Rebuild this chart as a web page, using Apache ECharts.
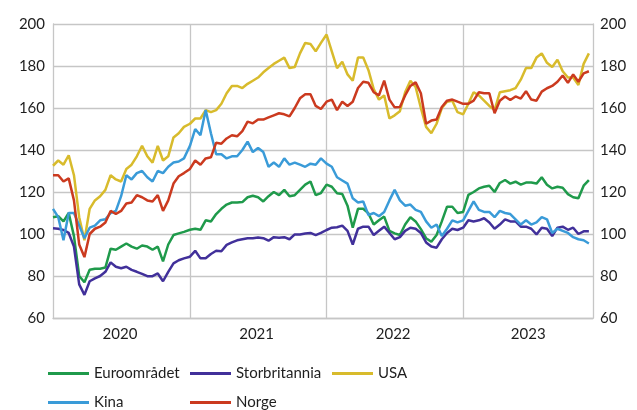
<!DOCTYPE html>
<html>
<head>
<meta charset="utf-8">
<script src="https://cdn.jsdelivr.net/npm/echarts@6/dist/echarts.min.js"></script>
<style>
  html, body { margin: 0; padding: 0; background: #fff; }
  #chart { width: 637px; height: 410px; }
</style>
</head>
<body>
<div id="chart"></div>
<script>
// observations every two weeks from 1 Jan each year, last one early Dec 2023
const pointsPerYear = { 2020: 26, 2021: 26, 2022: 26, 2023: 25 };
const dates = [];
Object.keys(pointsPerYear).forEach(y => {
  for (let k = 0; k < pointsPerYear[y]; k++) dates.push(Date.UTC(+y, 0, 1 + 14 * k));
});
const endDate = Date.UTC(2023, 11, 14);

const yearLabels = ['2020', '2021', '2022', '2023'];
const labelDates = [Date.UTC(2020, 5, 28), Date.UTC(2021, 5, 28), Date.UTC(2022, 5, 28), Date.UTC(2023, 5, 24)];
const yearLines = [Date.UTC(2021, 0, 1), Date.UTC(2022, 0, 1), Date.UTC(2023, 0, 1)];

const seriesNames = ['Euroområdet', 'Storbritannia', 'USA', 'Kina', 'Norge'];

const euro = [
  108, 108.5, 106, 110, 99, 80, 77, 83, 83.5, 83.5, 84, 93, 92.5, 94, 95.5, 94, 93, 94.5, 94, 92.5, 94, 87, 95, 99.5, 100.3, 101,
  102, 102.5, 102, 106.5, 106, 109.5, 112, 114, 115, 115, 115.2, 117.5, 118.2, 117.5, 115.5, 118, 120, 118.5, 121, 118, 118.5, 121, 123.5, 125, 118.5, 119.5,
  123.5, 122.5, 119.4, 119, 113.5, 103, 112, 112, 109.8, 104.5, 106.5, 108.3, 101.5, 100.3, 99.5, 104.5, 108, 106, 102.3, 98, 96.3, 99.5, 106, 113, 113, 110,
  110.5, 118.6, 120, 121.7, 122.5, 123, 120, 124.3, 125.7, 124, 124.9, 123.5, 124.5, 124.5, 124, 127, 123.5, 121.7, 122.5, 122, 119, 117.5, 117, 123, 125.7
];
const storb = [
  102.7, 102.5, 101.9, 100.5, 94, 76, 71, 77.5, 78.9, 80, 82, 86.5, 84.4, 83.7, 84.4, 82.9, 82, 81, 79.9, 79.9, 81.2, 77.5, 82, 86, 87.5, 88.4,
  89.2, 92, 88.4, 88.5, 90.5, 92, 91.8, 94.8, 96, 97, 97.5, 98, 98, 98.3, 98, 96.8, 98.5, 98.2, 98.5, 97.5, 99.8, 99.8, 100.2, 100.5, 99.5, 100.5,
  101.9, 103, 103.2, 104, 101.5, 95, 102.5, 103.5, 103.5, 99.5, 101.5, 103.5, 100.5, 97.5, 98.5, 101.5, 103, 102.5, 100.5, 96, 94, 93.5, 97.5, 100.5, 102.5, 101.9,
  103, 106.5, 106, 106.5, 107.5, 105.5, 102.5, 104.5, 107, 106, 106, 103.5, 103.5, 102.5, 99.8, 103, 102.5, 99, 103, 103.5, 102, 103, 100, 101.3, 101.3
];
const usa = [
  132.5, 135, 133, 137.5, 128, 108, 97, 112, 116, 118, 121, 128, 126, 125, 131, 133, 137, 142, 137, 134, 142, 135, 137, 146, 148, 151,
  152.5, 155, 155, 159, 158, 159, 162, 167, 170.5, 170.5, 169.5, 171.5, 173, 174.5, 177, 179, 181, 182.5, 184, 179, 179.5, 186, 191, 190.5, 187, 191,
  195, 187, 179, 182, 176, 173, 184, 184, 178, 169, 164, 166, 155, 156.5, 158.5, 167.5, 173, 170, 160, 151, 148, 152.5, 160, 163, 163.5, 158,
  157, 162, 167.5, 166, 163.5, 161, 159, 167.5, 168, 168.5, 169.5, 173.5, 179, 179, 184, 186, 181.5, 179.5, 183, 177.5, 174.5, 174.5, 171, 181, 186
];
const kina = [
  112, 108, 97, 110, 110, 104, 98, 103, 104, 106.5, 107, 110, 111, 118, 128, 126, 129, 130, 127, 125, 130, 129, 132, 134, 134.5, 136,
  142, 150, 147, 159, 148, 138, 138, 136, 137, 137, 140, 144, 139, 141, 139, 132, 134, 132, 136, 133, 134, 133, 132, 133.5, 133, 136,
  133.5, 132, 127, 125.5, 124, 117, 115, 115.5, 109, 110, 108.5, 110.5, 116, 121, 116, 113.5, 114, 111.5, 110.5, 106, 103, 104.5, 99, 102.5, 106.5, 105.5,
  106.5, 111, 115.5, 111.5, 110.5, 110.5, 108, 111, 110, 109.5, 107, 104.5, 106.5, 104.5, 105.5, 108, 107, 100.5, 102.5, 101.5, 100.5, 98.5, 97.5, 97, 95.5
];
const norge = [
  128, 128, 125, 126.5, 116, 95, 89, 100, 102.5, 103.5, 105.5, 111, 109.5, 111, 114.5, 115, 118.5, 117.5, 116, 115.5, 118.5, 111, 116, 124, 127.5, 129,
  131, 135, 133, 136, 136.5, 143.5, 143, 145.5, 147, 146.5, 149, 153.5, 152.7, 154.5, 154.5, 155.5, 156.5, 157.5, 157, 156, 160, 164.6, 166.5, 166.5, 161, 159.5,
  163, 164, 159, 163, 161, 163, 169.5, 172.5, 172, 167.5, 166, 173, 164, 160.3, 160.5, 166, 170.5, 172.2, 167, 152.5, 154, 154.5, 160.5, 163.5, 164, 163,
  162, 162, 163.5, 167.5, 167, 167, 157.5, 163.5, 165.5, 163.8, 165.5, 164.5, 168, 164, 163.5, 167.8, 169.4, 170.5, 172.5, 175.5, 172, 176, 172.5, 176.5, 177.5
];

const values = [euro, storb, usa, kina, norge];
const colors = ['#1f9a4b', '#41309a', '#d8bb2c', '#3a9bd8', '#cb3a1f'];

const gridGray = '#c6c6c6';
const textColor = '#1e1e1e';
const font = 'Lato, "Noto Sans", sans-serif';

const chart = echarts.init(document.getElementById('chart'));

const yAxisBase = {
  type: 'value',
  min: 60,
  max: 200,
  interval: 20,
  axisLine: { show: true, lineStyle: { color: gridGray, width: 1.3 } },
  axisTick: { show: false },
  axisLabel: { fontSize: 15, color: textColor, fontFamily: font }
};

chart.setOption({
  animation: false,
  color: colors,
  textStyle: { fontFamily: font },
  grid: { left: 53, right: 44, top: 24, bottom: 92 },
  legend: {
    left: 48,
    top: 364,
    padding: 0,
    width: 440,
    icon: 'rect',
    itemWidth: 41,
    itemHeight: 3,
    itemGap: 10,
    data: seriesNames,
    textStyle: { fontSize: 15, color: textColor, width: 86, lineHeight: 19, fontFamily: font }
  },
  xAxis: {
    // dates as UTC milliseconds on a plain value scale
    type: 'value',
    min: dates[0],
    max: endDate,
    axisLine: { lineStyle: { color: gridGray, width: 1.3 } },
    axisTick: { show: false, customValues: yearLines },
    splitLine: { show: true, lineStyle: { color: gridGray, width: 1.3 } },
    axisLabel: {
      customValues: labelDates,
      formatter: v => yearLabels[labelDates.findIndex(d => Math.abs(d - v) < 864e5)] || '',
      fontSize: 15,
      color: textColor,
      margin: 9,
      fontFamily: font
    }
  },
  yAxis: [
    Object.assign({}, yAxisBase, {
      position: 'left',
      axisLabel: Object.assign({}, yAxisBase.axisLabel, { margin: 8 }),
      splitLine: { show: true, lineStyle: { color: gridGray, width: 1.3 } }
    }),
    Object.assign({}, yAxisBase, {
      position: 'right',
      axisLabel: Object.assign({}, yAxisBase.axisLabel, { margin: 7 }),
      splitLine: { show: false }
    })
  ],
  series: seriesNames.map((name, i) => ({
    name: name,
    type: 'line',
    showSymbol: false,
    symbol: 'none',
    lineStyle: { width: 2.5 },
    data: dates.map((d, j) => [d, values[i][j]])
  }))
});
</script>
</body>
</html>
